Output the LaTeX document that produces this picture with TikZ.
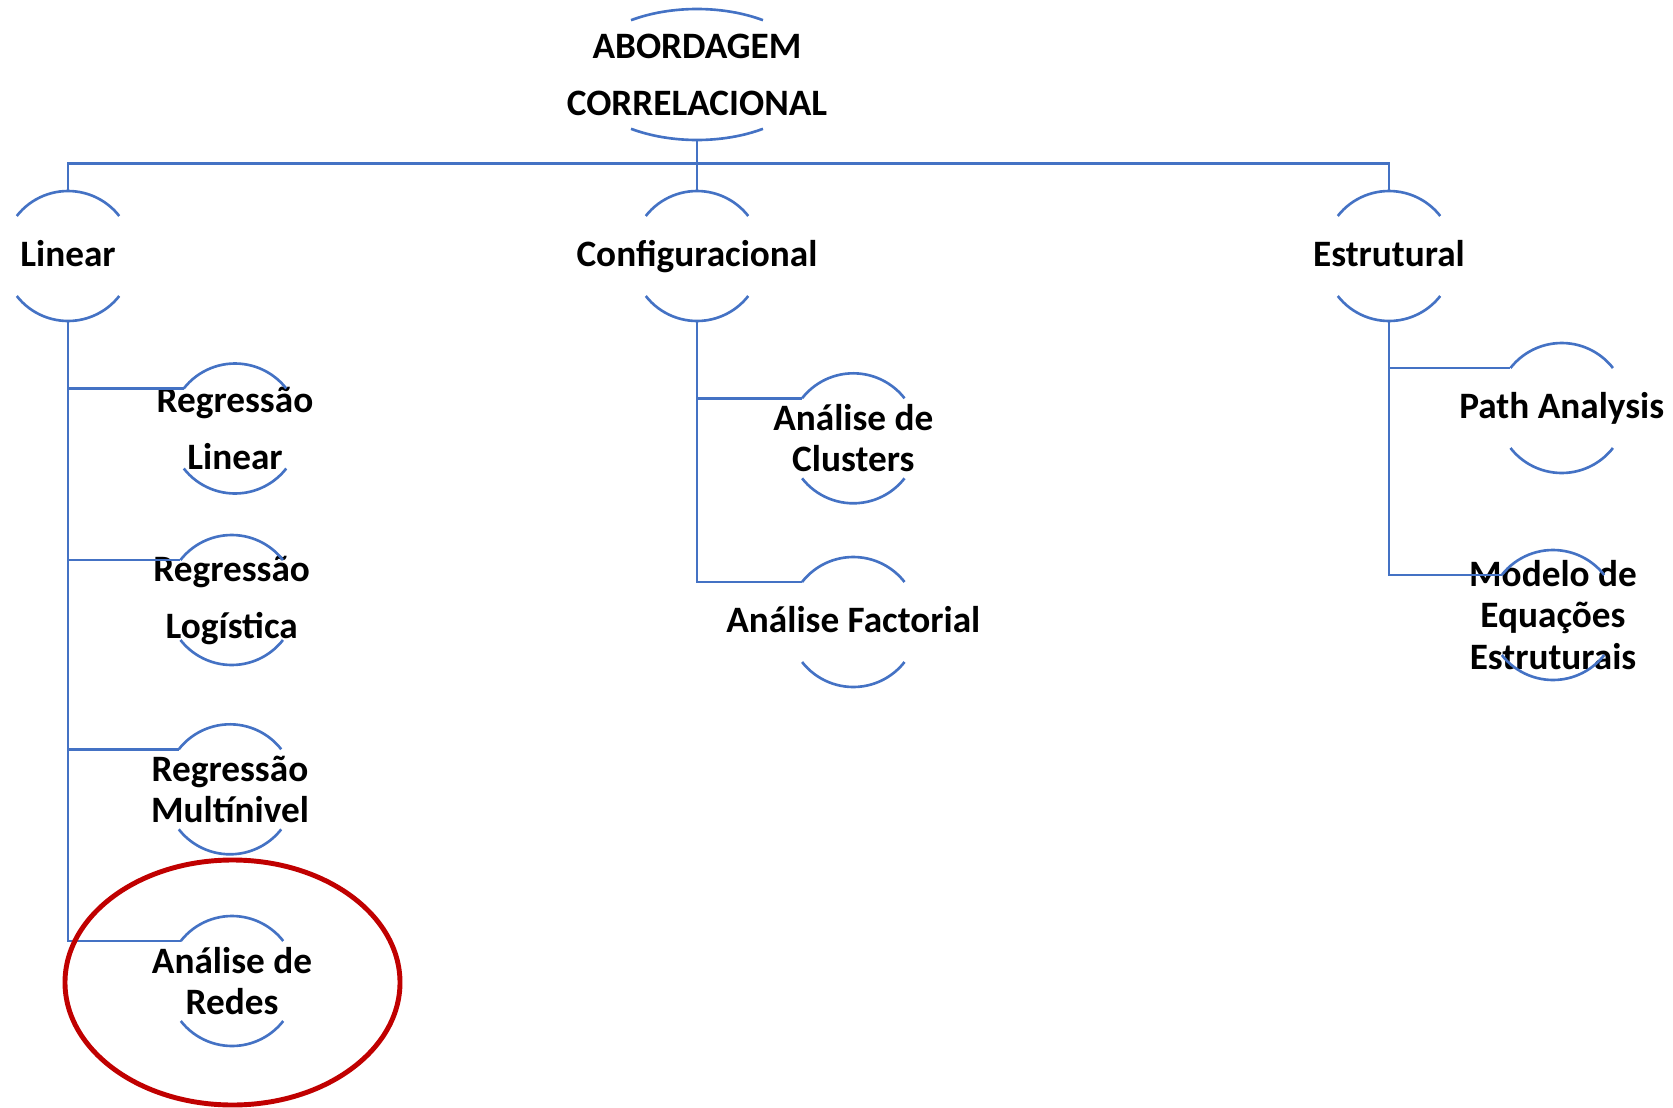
\documentclass[tikz,border=0pt]{standalone}
\usepackage{fontspec}
\setmainfont{Carlito}
\usetikzlibrary{calc}
\definecolor{azul}{HTML}{4472C4}
\definecolor{vermelho}{HTML}{C00000}

\begin{document}
\begin{tikzpicture}[
  ramo/.style={azul, line width=0.75pt},
  rotulo/.style={align=center, inner sep=0pt, font=\fontsize{10.6}{11.7}\selectfont\bfseries},
  rotulolargo/.style={rotulo, font=\fontsize{10.6}{16.2}\selectfont\bfseries},
  simples/.style={rotulo, text height=0.75em, text depth=0.15em}]
\useasboundingbox (0,0) rectangle (16.73,-11.08);
% topo
\node[rotulolargo] (abord) at (6.97,-0.745) {ABORDAGEM\\CORRELACIONAL};
% ramos
\node[simples] (lin) at (0.68,-2.56) {Linear};
\node[simples] (conf) at (6.97,-2.56) {Configuracional};
\node[simples] (estr) at (13.89,-2.56) {Estrutural};
% folhas
\node[rotulolargo] (reglin) at (2.35,-4.285) {Regressão\\Linear};
\node[rotulolargo] (reglog) at (2.317,-6.00) {Regressão\\Logística};
\node[rotulo] (regmul) at (2.30,-7.893) {Regressão\\Multínivel};
\node[rotulo] (redes) at (2.32,-9.81) {Análise de\\Redes};
\node[rotulo] (clust) at (8.533,-4.383) {Análise de\\Clusters};
\node[simples] (fact) at (8.533,-6.22) {Análise Factorial};
\node[simples] (path) at (15.617,-4.08) {Path Analysis};
\node[rotulo] (sem) at (15.53,-6.15) {Modelo de\\Equações\\Estruturais};
% arcos
\draw[ramo] ([shift={(124:1.18 and 0.655)}]abord.center) arc[start angle=124, end angle=56, x radius=1.18, y radius=0.655]
            ([shift={(-124:1.18 and 0.655)}]abord.center) arc[start angle=-124, end angle=-56, x radius=1.18, y radius=0.655];
\foreach \n in {lin,conf,estr,reglin,reglog,regmul,redes,clust,fact,path,sem}
  \draw[ramo] ([shift={(142:0.65)}]\n.center) arc[start angle=142, end angle=38, radius=0.65]
              ([shift={(-142:0.65)}]\n.center) arc[start angle=-142, end angle=-38, radius=0.65];
% ligacoes
\draw[ramo] ([yshift=-6.55mm]abord.center) -- ([yshift=6.5mm]conf.center);
\draw[ramo] ([yshift=6.5mm]lin.center) -- ++(0,0.275) -| ([yshift=6.5mm]estr.center);
\foreach \f in {reglin,reglog,regmul,redes}
  \draw[ramo] ([yshift=-6.5mm]lin.center) |- ([shift={(142:0.65)}]\f.center);
\foreach \f in {clust,fact}
  \draw[ramo] ([yshift=-6.5mm]conf.center) |- ([shift={(142:0.65)}]\f.center);
\foreach \f in {path,sem}
  \draw[ramo] ([yshift=-6.5mm]estr.center) |- ([shift={(142:0.65)}]\f.center);
% destaque
\draw[vermelho, line width=1.4pt] ([shift={(0.005,-0.015)}]redes.center) ellipse[x radius=1.675, y radius=1.225];
\end{tikzpicture}
\end{document}
